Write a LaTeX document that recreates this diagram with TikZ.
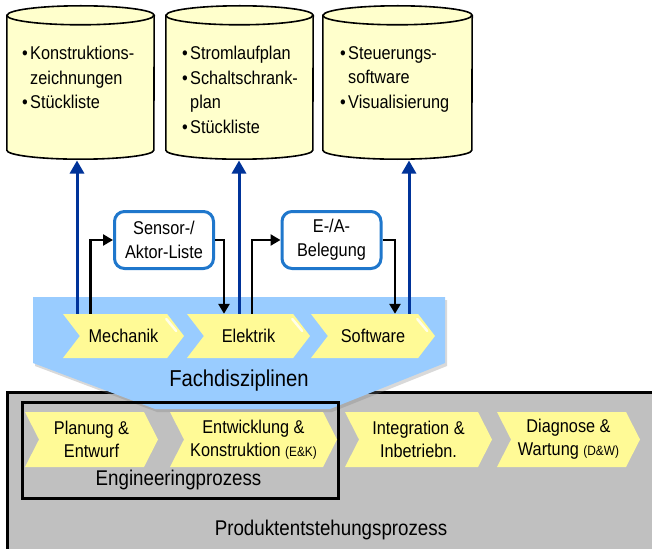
\documentclass[tikz,border=0pt]{standalone}
\usepackage{fontspec}
\setmainfont{Liberation Sans}[FakeStretch=0.88]
\usetikzlibrary{arrows.meta,shapes.symbols,shadows}

\definecolor{cylfill}{RGB}{255,255,204}
\definecolor{chevfill}{RGB}{255,250,150}
\definecolor{funnelblue}{RGB}{153,204,255}
\definecolor{procgray}{RGB}{192,192,192}
\definecolor{boxblue}{RGB}{31,119,204}
\definecolor{arrowblue}{RGB}{0,51,153}

% bullet with hanging indent for the document lists
\newcommand\bul{\makebox[8pt][l]{\textbullet}}
\newcommand\hang{\hspace*{8pt}}
% small abbreviation after a phase name
\newcommand\abbr[1]{{\fontsize{13.5}{13.5}\selectfont #1}}

\begin{document}
\begin{tikzpicture}[x=1pt,y=-1pt,
  txt/.style={font=\fontsize{18.5}{24.5}\selectfont},
  lbl/.style={font=\fontsize{21.3}{24}\selectfont, inner sep=0pt},
  cyltext/.style={txt, anchor=base west, inner sep=0pt, align=left},
  cylbody/.style={draw=none, inner sep=0pt, minimum width=#1},
  cylshape/.style={draw=black, line width=1.6pt, fill=cylfill},
  chev/.style={shape=signal, signal to=east, signal from=west, fill=chevfill,
    draw=none, inner sep=0pt, align=center},
  fachchev/.style={chev, minimum height=44, signal pointer angle=105,
    font=\fontsize{18.5}{23}\selectfont},
  procchev/.style={chev, minimum height=55, signal pointer angle=126,
    font=\fontsize{18.5}{23}\selectfont},
  gloss/.style={draw=white, line width=2.5pt, line cap=round, opacity=0.8},
  listbox/.style={draw=boxblue, line width=3pt, rounded corners=10pt, fill=white,
    minimum width=99, minimum height=57, inner sep=0pt, align=center,
    font=\fontsize{18.5}{24}\selectfont},
  blk/.style={draw=black, line width=2.6pt, -{Triangle[length=10pt,width=11pt]}},
  blu/.style={draw=arrowblue, line width=3pt, -{Triangle[length=13pt,width=14pt]}}
]
\useasboundingbox (0,0) rectangle (652,548);
\clip (0,0) rectangle (652,548);

% ---- document cylinders ----
\node[cylbody=147, minimum height=134.5] (c1) at (80.5,82.75) {};
\node[cylbody=147, minimum height=134.5] (c2) at (239.5,82.75) {};
\node[cylbody=149, minimum height=134.5] (c3) at (397.5,82.75) {};
\foreach \c/\r in {c1/73.5, c2/73.5, c3/74.5}{
  \path[cylshape] (\c.north west) -- (\c.south west)
    arc[start angle=180, end angle=0, x radius=\r, y radius=9]
    -- (\c.north east)
    arc[start angle=0, end angle=-180, x radius=\r, y radius=9.5] -- cycle;
  \draw[line width=1.6pt] (\c.north west)
    arc[start angle=180, end angle=0, x radius=\r, y radius=9.5];
}
% lists inside the cylinders (anchored at the last baseline)
\node[cyltext] (t1) at (22,109) {\bul Konstruktions-\\\hang zeichnungen\\\bul Stückliste};
\node[cyltext] (t2) at (182,133.5) {\bul Stromlaufplan\\\bul Schaltschrank-\\\hang plan\\\bul Stückliste};
\node[cyltext] (t3) at (340,108.5) {\bul Steuerungs-\\\hang software\\\bul Visualisierung};
\coordinate (c1b) at (77,160.5);
\coordinate (c2b) at (239,160.5);
\coordinate (c3b) at (409,160.5);

% ---- product development process ----
\node[draw=black, line width=2.5pt, fill=procgray, minimum width=700,
  minimum height=220, anchor=north west] (pep) at (6,391) {};
\node[lbl] (peplbl) at (331,530) {Produktentstehungsprozess};

% ---- funnel of the disciplines ----
\path[fill=funnelblue, drop shadow={opacity=0.3, shadow xshift=2pt, shadow yshift=-3pt}]
  (33,297) -- (445,297) -- (445,363) -- (330,409) -- (155,409) -- (33,363) -- cycle;
\node[lbl, font=\fontsize{23}{26}\selectfont] (fach) at (239,381) {Fachdisziplinen};

% ---- engineering process frame ----
\node[draw=black, line width=2.5pt, minimum width=316, minimum height=96,
  anchor=north west, inner sep=0pt] (eng) at (21,401) {};
\node[lbl] (englbl) at (178.5,480) {Engineeringprozess};

% ---- process phases ----
\node[procchev, minimum width=133] (plan) at (91.5,439.5) {Planung \&\\Entwurf};
\node[procchev, minimum width=167] (ek) at (253.5,439.5) {Entwicklung \&\\Konstruktion \abbr{(E\&K)}};
\node[procchev, minimum width=147] (int) at (418.5,439.5) {Integration \&\\Inbetriebn.};
\node[procchev, minimum width=143] (dw) at (568.5,439.5) {Diagnose \&\\Wartung \abbr{(D\&W)}};

% ---- disciplines ----
\node[fachchev, minimum width=121] (mech) at (123.5,336) {Mechanik};
\node[fachchev, minimum width=123] (elek) at (248.5,336) {Elektrik};
\node[fachchev, minimum width=124] (soft) at (373,336) {Software};
\foreach \n in {mech,elek,soft}
  \draw[gloss] ([xshift=-18pt,yshift=17pt]\n.east) -- ([xshift=-8pt,yshift=5pt]\n.east);

% ---- exchanged lists ----
\node[listbox] (sens) at (164,240) {Sensor-/\\Aktor-Liste};
\node[listbox] (ea) at (331.5,240) {E-/A-\\Belegung};

% ---- connectors ----
\draw[blk] ([xshift=-33pt]mech.north) |- (sens.west);
\draw[blk] (sens.east) -| ([xshift=-24.5pt]elek.north);
\draw[blk] ([xshift=3.5pt]elek.north) |- (ea.west);
\draw[blk] (ea.east) -| ([xshift=22pt]soft.north);

\draw[blu] (c1b |- mech.north) -- (c1b);
\draw[blu] (c2b |- elek.north) -- (c2b);
\draw[blu] (c3b |- soft.north) -- (c3b);
\end{tikzpicture}
\end{document}
